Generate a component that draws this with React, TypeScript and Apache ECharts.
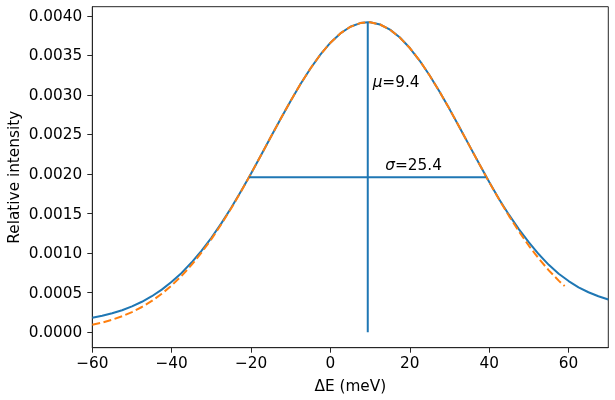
import React, { useEffect, useRef } from "react";
import * as echarts from "echarts";

const blueX = [-60, -57.5, -55, -52.5, -50, -47.5, -45, -42.5, -40, -37.5, -35, -32.5, -30, -27.5, -25, -22.5, -20, -17.5, -15, -12.5, -10, -7.5, -5, -2.5, 0, 2.5, 5, 7.5, 9.4, 10, 12.5, 15, 17.5, 20, 22.5, 25, 27.5, 30, 32.5, 35, 37.5, 40, 42.5, 45, 47.5, 50, 52.5, 55, 57.5, 60, 62.5, 65, 67.5, 70];
const blueY = [0.000183, 0.000208, 0.00024, 0.000278, 0.000327, 0.000385, 0.000455, 0.000538, 0.000637, 0.00075, 0.000881, 0.001029, 0.001194, 0.001376, 0.001573, 0.001785, 0.002007, 0.002237, 0.002471, 0.002703, 0.002928, 0.003142, 0.003338, 0.003513, 0.003661, 0.003778, 0.003862, 0.003909, 0.00392, 0.003919, 0.003891, 0.003826, 0.003726, 0.003593, 0.003432, 0.003246, 0.003041, 0.002821, 0.002592, 0.002359, 0.002126, 0.001899, 0.001682, 0.001483, 0.001301, 0.001135, 0.000985, 0.000852, 0.00074, 0.000647, 0.000568, 0.000505, 0.000455, 0.000413];

const orangeX = [-60, -57.5, -55, -52.5, -50, -47.5, -45, -42.5, -40, -37.5, -35, -32.5, -30, -27.5, -25, -22.5, -20, -17.5, -15, -12.5, -10, -7.5, -5, -2.5, 0, 2.5, 5, 7.5, 9.4, 10, 12.5, 15, 17.5, 20, 22.5, 25, 27.5, 30, 32.5, 35, 37.5, 40, 42.5, 45, 47.5, 50, 52.5, 55, 57.5, 59];
const orangeY = [0.0000938, 0.0001221, 0.0001575, 0.0002011, 0.0002545, 0.0003188, 0.0003955, 0.0004861, 0.0005915, 0.0007127, 0.0008506, 0.0010055, 0.0011772, 0.0013646, 0.0015668, 0.0017816, 0.0020063, 0.0022371, 0.0024712, 0.0027032, 0.0029282, 0.0031419, 0.0033379, 0.0035127, 0.0036605, 0.0037781, 0.0038616, 0.003909, 0.00392, 0.0039189, 0.0038909, 0.0038259, 0.0037256, 0.0035931, 0.003432, 0.0032462, 0.0030411, 0.0028212, 0.0025923, 0.0023591, 0.0021258, 0.0018973, 0.001677, 0.001468, 0.0012728, 0.0010925, 0.000929, 0.0007824, 0.0006523, 0.0005825];

const muLineX = [9.4, 9.4];
const muLineY = [0, 0.00392];
const sigmaLineX = [-20.5, 39.2];
const sigmaLineY = [0.00196, 0.00196];

const annX = [10.5, 13.7];
const annY = [0.00317, 0.00212];
const annLabels = ["{i|μ}=9.4", "{i|σ}=25.4"];

const xTicks = [-60, -40, -20, 0, 20, 40, 60];
const yTicks = [0, 0.0005, 0.001, 0.0015, 0.002, 0.0025, 0.003, 0.0035, 0.004];

const FONT = "DejaVu Sans";
const FS = 15.3;
const BLUE = "#1f77b4";
const ORANGE = "#ff7f0e";

const pairs = (xs: number[], ys: number[]) => xs.map((x, i) => [x, ys[i]]);
const minus = (s: string) => s.replace("-", "\u2212");

export default function App() {
  const ref = useRef<HTMLDivElement>(null);
  useEffect(() => {
    if (!ref.current) return;
    const chart = echarts.init(ref.current, null, { renderer: "svg" });
    const axisLine = { show: true, onZero: false, lineStyle: { color: "#262626", width: 1 } };
    chart.setOption({
      animation: false,
      grid: {
        left: 92.3,
        right: 6.7,
        top: 6.7,
        bottom: 52.3,
        show: true,
        borderColor: "#262626",
        borderWidth: 1,
        containLabel: false,
        outerBoundsMode: "none",
      },
      xAxis: {
        type: "value",
        min: -60,
        max: 70,
        splitLine: { show: false },
        axisLine,
        axisTick: { show: true, customValues: xTicks, length: 5, lineStyle: { color: "#262626" } },
        axisLabel: {
          customValues: xTicks,
          margin: 8,
          color: "#000",
          fontSize: FS,
          fontFamily: FONT,
          formatter: (v: number) => minus(String(v)),
        },
        name: "ΔE (meV)",
        nameLocation: "middle",
        nameGap: 31,
        nameMoveOverlap: false,
        nameTextStyle: { color: "#000", fontSize: FS, fontFamily: FONT },
      },
      yAxis: {
        type: "value",
        min: -0.000196,
        max: 0.004116,
        splitLine: { show: false },
        axisLine,
        axisTick: { show: true, customValues: yTicks, length: 5, lineStyle: { color: "#262626" } },
        axisLabel: {
          customValues: yTicks,
          margin: 10,
          color: "#000",
          fontSize: FS,
          fontFamily: FONT,
          formatter: (v: number) => v.toFixed(4),
        },
        name: "Relative intensity",
        nameLocation: "middle",
        nameGap: 71,
        nameMoveOverlap: false,
        nameTextStyle: { color: "#000", fontSize: FS, fontFamily: FONT },
      },
      series: [
        {
          type: "line",
          data: pairs(blueX, blueY),
          showSymbol: false,
          lineStyle: { color: BLUE, width: 2 },
          z: 2,
        },
        {
          type: "line",
          data: pairs(orangeX, orangeY),
          showSymbol: false,
          lineStyle: { color: ORANGE, width: 2, type: [8, 3.5] },
          z: 3,
        },
        {
          type: "line",
          data: pairs(muLineX, muLineY),
          showSymbol: false,
          lineStyle: { color: BLUE, width: 2 },
          z: 4,
        },
        {
          type: "line",
          data: pairs(sigmaLineX, sigmaLineY),
          showSymbol: false,
          lineStyle: { color: BLUE, width: 2 },
          z: 4,
        },
        {
          type: "scatter",
          symbolSize: 1,
          itemStyle: { color: "rgba(0,0,0,0)" },
          data: annX.map((x, i) => ({ value: [x, annY[i]], name: annLabels[i] })),
          label: {
            show: true,
            position: "right",
            distance: 0,
            formatter: (p: any) => p.name,
            color: "#000",
            opacity: 1,
            fontSize: FS,
            fontFamily: FONT,
            rich: {
              i: { fontStyle: "italic", fontSize: FS, fontFamily: FONT, color: "#000" },
            },
          },
          emphasis: { disabled: true },
          z: 5,
        },
      ],
    });
    return () => chart.dispose();
  }, []);
  return (
    <div
      ref={ref}
      style={{ position: "fixed", left: 0, top: 0, width: 615, height: 400 }}
    />
  );
}
